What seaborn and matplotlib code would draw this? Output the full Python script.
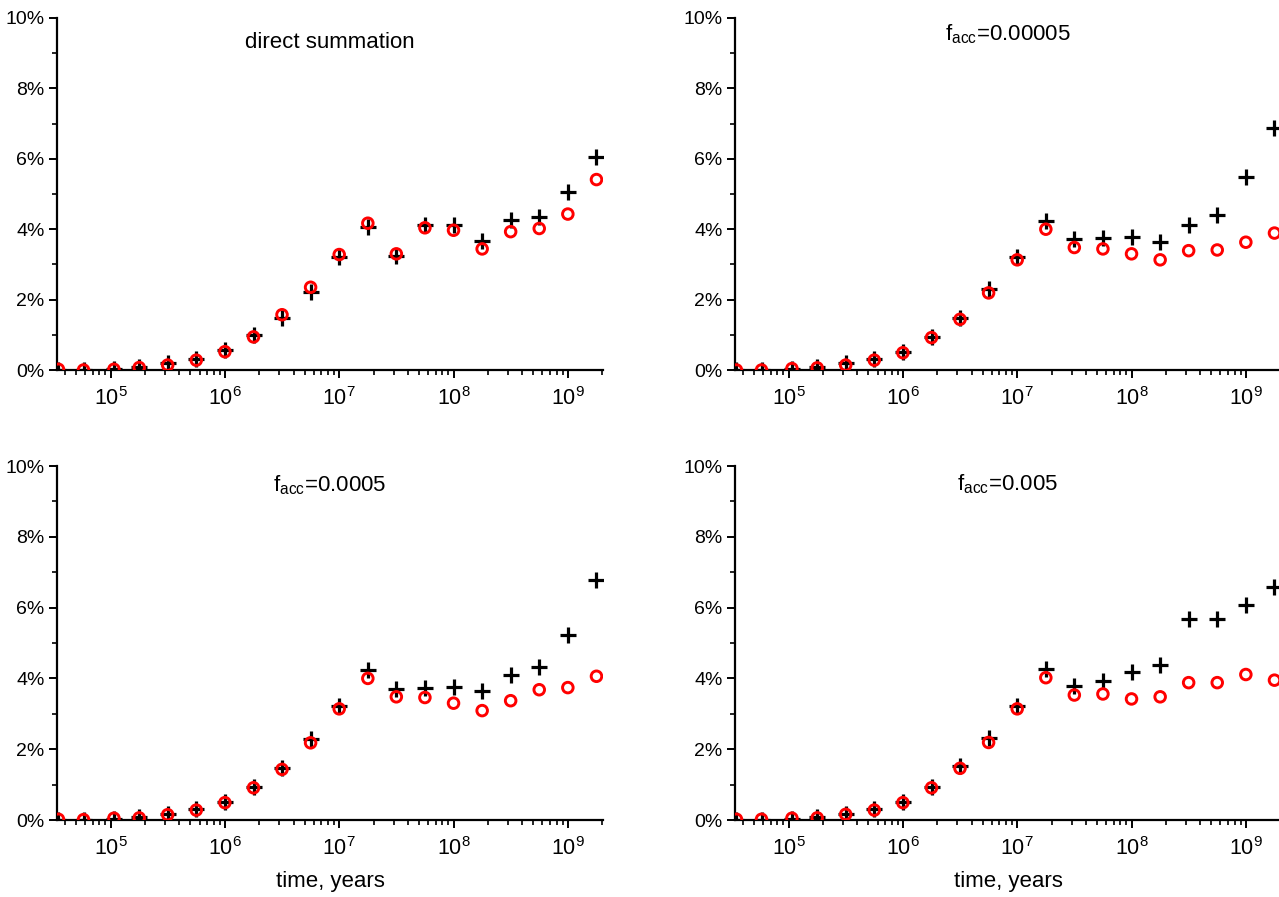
import numpy as np
import pandas as pd
import matplotlib
matplotlib.use("Agg")
import matplotlib.pyplot as plt
import matplotlib.ticker as mticker
import seaborn as sns

time_years = [3.5e4, 5.8e4, 1.07e5, 1.78e5, 3.16e5, 5.62e5, 1.0e6, 1.78e6, 3.16e6, 5.62e6,
              1.0e7, 1.78e7, 3.16e7, 5.62e7, 1.0e8, 1.78e8, 3.16e8, 5.62e8, 1.0e9, 1.78e9]

titles = ["direct summation", "f$_{\\mathregular{acc}}$=0.00005",
          "f$_{\\mathregular{acc}}$=0.0005", "f$_{\\mathregular{acc}}$=0.005"]

plus_direct = [0.0, 0.0, 0.03, 0.09, 0.19, 0.30, 0.56, 0.99, 1.48, 2.23,
               3.22, 4.05, 3.25, 4.12, 4.11, 3.67, 4.27, 4.36, 5.05, 6.05]
circ_direct = [0.02, 0.0, 0.02, 0.07, 0.14, 0.28, 0.52, 0.94, 1.57, 2.35,
               3.28, 4.17, 3.30, 4.04, 3.97, 3.44, 3.93, 4.02, 4.43, 5.41]

plus_f1 = [0.0, 0.0, 0.04, 0.09, 0.19, 0.30, 0.52, 0.94, 1.48, 2.31,
           3.20, 4.24, 3.71, 3.75, 3.77, 3.65, 4.11, 4.41, 5.48, 6.87]
circ_f1 = [0.0, 0.0, 0.04, 0.06, 0.14, 0.28, 0.49, 0.92, 1.44, 2.19,
           3.13, 4.00, 3.48, 3.44, 3.30, 3.13, 3.39, 3.41, 3.63, 3.89]

plus_f2 = [0.0, 0.0, 0.04, 0.08, 0.16, 0.30, 0.52, 0.92, 1.48, 2.30,
           3.22, 4.24, 3.71, 3.73, 3.77, 3.63, 4.09, 4.33, 5.23, 6.78]
circ_f2 = [0.02, 0.01, 0.05, 0.06, 0.15, 0.28, 0.49, 0.91, 1.43, 2.18,
           3.14, 4.00, 3.48, 3.46, 3.30, 3.09, 3.37, 3.68, 3.74, 4.06]

plus_f3 = [0.0, 0.0, 0.04, 0.08, 0.17, 0.30, 0.52, 0.92, 1.53, 2.33,
           3.23, 4.26, 3.79, 3.94, 4.17, 4.38, 5.68, 5.68, 6.07, 6.57]
circ_f3 = [0.02, 0.02, 0.05, 0.06, 0.16, 0.28, 0.49, 0.91, 1.46, 2.19,
           3.14, 4.02, 3.53, 3.56, 3.42, 3.48, 3.88, 3.88, 4.11, 3.95]

plus_sets = [plus_direct, plus_f1, plus_f2, plus_f3]
circ_sets = [circ_direct, circ_f1, circ_f2, circ_f3]

sns.set_style("ticks")
plt.rcParams["font.family"] = ["Liberation Sans", "DejaVu Sans"]
plt.rcParams["mathtext.default"] = "regular"
plt.rcParams["axes.linewidth"] = 1.6
for key in ["text.color", "axes.labelcolor", "xtick.color", "ytick.color", "axes.edgecolor"]:
    plt.rcParams[key] = "black"

fig = plt.figure(figsize=(12.79, 8.97), dpi=100)
W, H = 1279, 897
ax_w = 546 / W
positions = [
    (57 / W, (H - 370) / H, ax_w, 352 / H),
    (735 / W, (H - 370) / H, ax_w, 352 / H),
    (57 / W, (H - 820) / H, ax_w, 354 / H),
    (735 / W, (H - 820) / H, ax_w, 354 / H),
]
title_y = [0.93, 0.955, 0.945, 0.95]

for i, pos in enumerate(positions):
    ax = fig.add_axes(pos)
    df = pd.DataFrame({"t": time_years, "plus": plus_sets[i], "circ": circ_sets[i]})
    sns.scatterplot(data=df, x="t", y="plus", ax=ax, marker="+", s=125,
                    color="black", linewidth=2.3, zorder=3)
    sns.scatterplot(data=df, x="t", y="circ", ax=ax, marker="o", s=58,
                    facecolor="none", edgecolor="red", linewidth=2.1, zorder=4)
    ax.set_xscale("log")
    ax.set_xlim(3.4e4, 2.03e9)
    ax.set_ylim(0, 10)
    ax.set_yticks([0, 2, 4, 6, 8, 10])
    ax.yaxis.set_minor_locator(mticker.MultipleLocator(1))
    ax.yaxis.set_major_formatter(mticker.FuncFormatter(lambda v, p: f"{v:.0f}%"))
    ax.xaxis.set_major_locator(mticker.LogLocator(base=10, numticks=20))
    ax.xaxis.set_minor_locator(mticker.LogLocator(base=10, subs=np.arange(2, 10), numticks=20))
    ax.xaxis.set_minor_formatter(mticker.NullFormatter())
    ax.tick_params(axis="both", which="major", length=6, width=1.4, direction="out")
    ax.tick_params(axis="y", which="major", labelsize=14, pad=3)
    ax.tick_params(axis="x", which="major", labelsize=15.5, pad=6)
    ax.tick_params(axis="both", which="minor", length=3.5, width=1.2, direction="out")
    sns.despine(ax=ax)
    ax.set_ylabel("")
    if i >= 2:
        ax.set_xlabel("time, years", fontsize=16, labelpad=8)
    else:
        ax.set_xlabel("")
    ax.text(0.5, title_y[i], titles[i], transform=ax.transAxes, ha="center",
            va="center", fontsize=16)
    leg = ax.get_legend()
    if leg is not None:
        leg.remove()

fig.savefig("out.png", dpi=100)
